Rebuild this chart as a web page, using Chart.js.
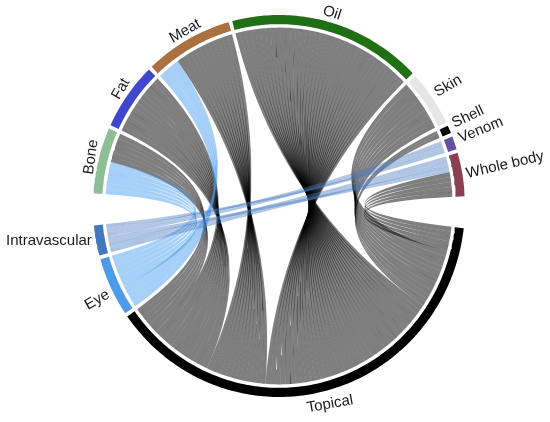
<!DOCTYPE html>
<html>
<head>
<meta charset="utf-8">
<script src="https://cdn.jsdelivr.net/npm/chart.js@4"></script>
<style>
html, body { margin: 0; padding: 0; background: #fff; }
canvas { display: block; }
</style>
</head>
<body>
<canvas id="chord" width="550" height="422"></canvas>
<script>
// Sectors, clockwise from the lower end of Bone
const sectorNames = ['Bone', 'Fat', 'Meat', 'Oil', 'Skin', 'Shell', 'Venom', 'Whole body', 'Topical', 'Eye', 'Intravascular'];

// Links. The order matters, each one takes the next free stretch of its two sectors
const linkSource = ['Whole body', 'Venom', 'Whole body', 'Skin', 'Shell', 'Oil', 'Meat', 'Meat', 'Fat', 'Bone', 'Bone'];
const linkTarget = ['Intravascular', 'Intravascular', 'Topical', 'Topical', 'Topical', 'Topical', 'Eye', 'Topical', 'Topical', 'Eye', 'Topical'];
const linkValue = [5.2, 4, 8, 16.9, 2.4, 60.5, 7.5, 20, 20.6, 10.5, 9.6];

// Layout and colours
const sectorColors = ['#8dbe96', '#3f48cc', '#a9713f', '#1f6f14', '#e6e6e6', '#000000', '#6750a0', '#8b4050', '#000000', '#4c9be8', '#4478be'];
const linkColors = { Topical: 'rgba(0,0,0,0.5)', Eye: 'rgba(60,150,240,0.45)', Intravascular: 'rgba(70,120,190,0.43)' };
const START_DEG = 176.2;
const GAP = 1.15;
const BIG_AFTER = ['Whole body', 'Intravascular'];
const RING_OUT = 1, RING_IN = 0.952, LINK_R = 0.934;
const STRANDS_PER_DEG = 0.6;
const STRAND_OVERLAP = 0.025; // degrees, hides the antialiasing seam between two strands
const BAND_STRANDS = 6, BAND_BLOCK = 4;

const labels = [
    { text: 'Bone', x: -1.01, y: 0.256, rot: -82 },
    { text: 'Fat', x: -0.85, y: 0.613, rot: -60 },
    { text: 'Meat', x: -0.505, y: 0.916, rot: -30 },
    { text: 'Oil', x: 0.285, y: 1.01, rot: 18 },
    { text: 'Skin', x: 0.909, y: 0.628, rot: -30 },
    { text: 'Shell', x: 1.016, y: 0.466, rot: -25 },
    { text: 'Venom', x: 1.085, y: 0.398, rot: -22 },
    { text: 'Whole body', x: 1.215, y: 0.215, rot: -13 },
    { text: 'Intravascular', x: -1.237, y: -0.183, rot: 0 },
    { text: 'Eye', x: -0.978, y: -0.492, rot: -30 },
    { text: 'Topical', x: 0.274, y: -1.037, rot: -10 }
];

function rad(d) { return d * Math.PI / 180; }

function onCircle(deg, r) {
    return { x: r * Math.cos(rad(deg)), y: r * Math.sin(rad(deg)) };
}

// Sector sizes are the sums of their links
function sectorSize(name) {
    let sum = 0;
    linkValue.forEach((v, i) => {
        if (linkSource[i] === name) sum += v;
        if (linkTarget[i] === name) sum += v;
    });
    return sum;
}

const total = sectorNames.reduce((s, n) => s + sectorSize(n), 0);
const bigGap = (360 - total - GAP * (sectorNames.length - BIG_AFTER.length)) / BIG_AFTER.length;

const sectorStart = {};
let cursor = START_DEG;
sectorNames.forEach(n => {
    sectorStart[n] = cursor;
    cursor -= sectorSize(n) + (BIG_AFTER.includes(n) ? bigGap : GAP);
});

function arcPoints(from, to, r) {
    const pts = [];
    const steps = Math.max(2, Math.ceil(Math.abs(to - from)));
    for (let i = 0; i <= steps; i++) pts.push(onCircle(from + (to - from) * i / steps, r));
    return pts;
}

// Quadratic bezier with the control point in the middle of the circle
function curvePoints(a, b) {
    const pts = [];
    const p0 = onCircle(a, LINK_R), p2 = onCircle(b, LINK_R);
    for (let i = 1; i < 24; i++) {
        const t = i / 24;
        pts.push({ x: (1 - t) * (1 - t) * p0.x + t * t * p2.x, y: (1 - t) * (1 - t) * p0.y + t * t * p2.y });
    }
    return pts;
}

function polygon(points, color, order) {
    return {
        data: points, showLine: true, fill: 'shape', backgroundColor: color,
        borderWidth: 0, pointRadius: 0, tension: 0, order: order
    };
}

const datasets = [];

sectorNames.forEach((n, i) => {
    const a = sectorStart[n], b = a - sectorSize(n);
    const pts = arcPoints(a, b, RING_OUT).concat(arcPoints(b, a, RING_IN));
    datasets.push(polygon(pts, sectorColors[i], 0));
});

const used = {};
sectorNames.forEach(n => { used[n] = 0; });

linkValue.forEach((value, l) => {
    const src = linkSource[l], dst = linkTarget[l];
    const a0 = sectorStart[src] - used[src];
    const b0 = sectorStart[dst] - used[dst];
    used[src] += value;
    used[dst] += value;
    // the bands to Intravascular stay wider in the middle, the others pass through a tight waist
    const band = dst === 'Intravascular';
    const n = band ? BAND_STRANDS : Math.max(3, Math.round(value * STRANDS_PER_DEG));
    const step = value / n;
    for (let s = 0; s < n; s++) {
        let k = s;
        if (band) {
            const first = s - s % BAND_BLOCK;
            const last = Math.min(first + BAND_BLOCK, n) - 1;
            k = first + last - s;
        }
        const a1 = a0 - s * step, a2 = a1 - step - (s < n - 1 ? STRAND_OVERLAP : 0);
        const b1 = b0 - k * step, b2 = b1 - step - (k < n - 1 ? STRAND_OVERLAP : 0);
        const pts = arcPoints(a1, a2, LINK_R)
            .concat(curvePoints(a2, b1))
            .concat(arcPoints(b1, b2, LINK_R))
            .concat(curvePoints(b2, a1));
        datasets.push(polygon(pts, linkColors[dst], dst === 'Topical' ? 2 : 1));
    }
});

const labelPlugin = {
    id: 'sectorLabels',
    afterDatasetsDraw(chart) {
        const { ctx, scales } = chart;
        ctx.save();
        ctx.fillStyle = '#1a1a1a';
        ctx.font = '15px "Liberation Sans"';
        ctx.textAlign = 'center';
        ctx.textBaseline = 'middle';
        labels.forEach(lb => {
            ctx.save();
            ctx.translate(scales.x.getPixelForValue(lb.x), scales.y.getPixelForValue(lb.y));
            ctx.rotate(rad(lb.rot));
            ctx.fillText(lb.text, 0, 0);
            ctx.restore();
        });
        ctx.restore();
    }
};

new Chart(document.getElementById('chord'), {
    type: 'scatter',
    data: { datasets: datasets },
    plugins: [labelPlugin],
    options: {
        responsive: false,
        animation: false,
        events: [],
        layout: { padding: 0 },
        scales: {
            x: { type: 'linear', display: false, min: -279 / 186, max: 271 / 186 },
            y: { type: 'linear', display: false, min: -216 / 191, max: 206 / 191 }
        },
        plugins: { legend: { display: false }, tooltip: { enabled: false } }
    }
});
</script>
</body>
</html>
